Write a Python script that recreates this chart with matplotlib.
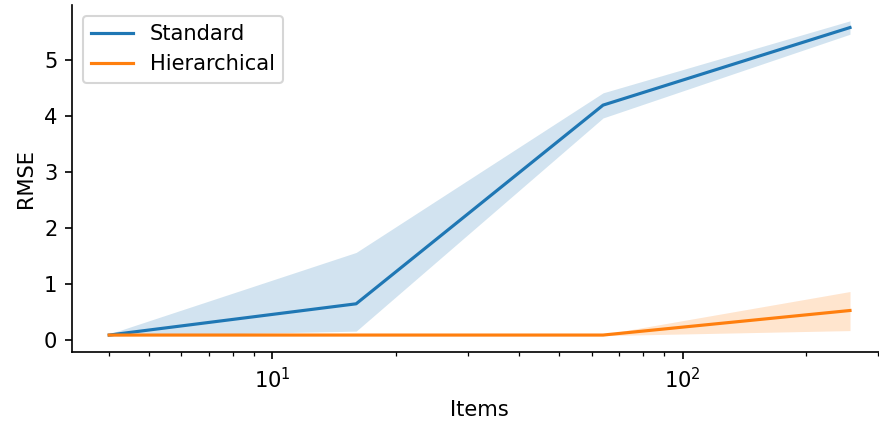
import matplotlib
matplotlib.use("Agg")
import matplotlib.pyplot as plt

# data
items = [4, 16, 64, 256]

standard = [0.08, 0.64, 4.20, 5.59]
standard_lo = [0.06, 0.15, 3.97, 5.47]
standard_hi = [0.10, 1.56, 4.42, 5.71]

hier = [0.08, 0.08, 0.08, 0.52]
hier_lo = [0.07, 0.07, 0.07, 0.16]
hier_hi = [0.09, 0.09, 0.09, 0.86]

DPI = 151
fig, ax = plt.subplots(figsize=(880 / DPI, 423 / DPI), dpi=DPI)
# the axes runs a little past the right edge, as in the cropped original
fig.subplots_adjust(left=0.082, right=1.008, bottom=0.168, top=0.988)

ax.plot(items, standard, color="#1f77b4", lw=1.5, label="Standard")
ax.fill_between(items, standard_lo, standard_hi, color="#1f77b4", alpha=0.2, lw=0)
ax.plot(items, hier, color="#ff7f0e", lw=1.5, label="Hierarchical")
ax.fill_between(items, hier_lo, hier_hi, color="#ff7f0e", alpha=0.2, lw=0)

ax.set_xscale("log")
ax.set_xlabel("Items")
ax.set_ylabel("RMSE")
ax.spines["top"].set_visible(False)
ax.spines["right"].set_visible(False)
ax.legend(loc="upper left")

fig.savefig("out.png", dpi=DPI)
